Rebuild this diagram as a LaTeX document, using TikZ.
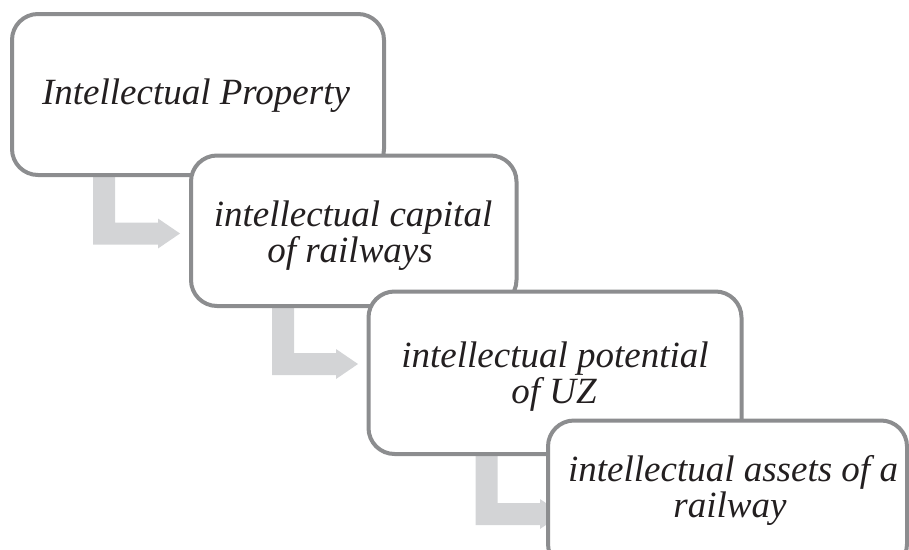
\documentclass[tikz,border=0pt]{standalone}
\usepackage{fontspec}
\setmainfont{Liberation Serif}
\usetikzlibrary{calc}
\definecolor{framegray}{RGB}{140,141,143}
\definecolor{arrowgray}{RGB}{211,212,214}
\definecolor{inkdark}{RGB}{35,31,32}
\pgfdeclarelayer{back}
\pgfsetlayers{back,main}
% L-shaped block arrow: #1 = start of the vertical bar (top centre), #2 = tip
\newcommand\bentarrow[2]{%
  \fill[arrowgray]
    ($(#1)+(-11,0)$) -- ($(#1)+(11,0)$) -- ($(#1 |- #2)+(11,-11)$)
    -- ($(#2)+(-22,-11)$) -- ($(#2)+(-22,-15)$) -- (#2)
    -- ($(#2)+(-22,15)$) -- ($(#2)+(-22,11)$) -- ($(#1 |- #2)+(-11,11)$) -- cycle;}
\tikzset{
  stagebox/.style={draw=framegray, line width=4pt, fill=white,
    rounded corners=26pt, inner sep=0pt, outer sep=0pt},
  label/.style={anchor=base, inner sep=0pt, text=inkdark,
    font=\fontsize{37}{37}\selectfont\itshape},
}
\begin{document}
\begin{tikzpicture}[x=1pt,y=-1pt]
  \useasboundingbox (0,0) rectangle (909,549);
  \clip (0,0) rectangle (909,549);
  % stages, each one overlapping the previous
  \node[stagebox, minimum width=372pt, minimum height=161pt] (ip)  at (198,94.5)   {};
  \node[stagebox, minimum width=325.5pt, minimum height=150.5pt] (ic) at (353.75,230.75) {};
  \node[stagebox, minimum width=373pt, minimum height=162.5pt] (pot) at (555,372.75) {};
  \node[stagebox, minimum width=359pt, minimum height=149.5pt] (ast) at (727.5,495.25) {};
  % texts
  \node[label] (t1)  at (196,104) {Intellectual Property};
  \node[label] (t2a) at (353,226) {intellectual capital};
  \node[label] (t2b) at (350,262) {of railways};
  \node[label] (t3a) at (555,367) {intellectual potential};
  \node[label] (t3b) at (554,403) {of UZ};
  \node[label] (t4a) at (733,481) {intellectual assets of a};
  \node[label] (t4b) at (730,517) {railway};
  % arrows between the stages, behind the boxes
  \coordinate (a1s) at ($(ip.south west)+(92,0)$);
  \coordinate (a1e) at ($(ic.west)+(-11,2.75)$);
  \coordinate (a2s) at ($(ic.south west)+(92,0)$);
  \coordinate (a2e) at ($(pot.west)+(-10.5,-8.75)$);
  \coordinate (a3s) at ($(pot.south west)+(118,0)$);
  \coordinate (a3e) at ($(ast.west)+(14,18.75)$);
  \begin{pgfonlayer}{back}
    \bentarrow{a1s}{a1e}
    \bentarrow{a2s}{a2e}
    \bentarrow{a3s}{a3e}
  \end{pgfonlayer}
\end{tikzpicture}
\end{document}
